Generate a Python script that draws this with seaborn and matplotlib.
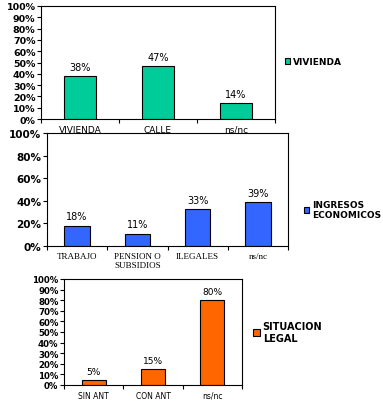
import matplotlib
matplotlib.use("Agg")
import matplotlib.pyplot as plt
import seaborn as sns
from matplotlib.patches import Patch
from matplotlib.ticker import FixedLocator

sns.set_style("white")
plt.rcParams['font.family'] = ['DejaVu Sans']
plt.rcParams['text.color'] = 'black'
plt.rcParams['xtick.color'] = 'black'
plt.rcParams['ytick.color'] = 'black'
plt.rcParams['xtick.labelcolor'] = 'black'
plt.rcParams['ytick.labelcolor'] = 'black'

viv_cats = ["VIVIENDA", "CALLE", "ns/nc"]
viv_vals = [38, 47, 14]
ing_cats = ["TRABAJO", "PENSION O\nSUBSIDIOS", "ILEGALES", "ns/nc"]
ing_vals = [18, 11, 33, 39]
sit_cats = ["SIN ANT", "CON ANT", "ns/nc"]
sit_vals = [5, 15, 80]

W, H = 383, 402
fig = plt.figure(figsize=(W / 100, H / 100), dpi=100)


def px_axes(left, top, right, bottom):
    return fig.add_axes([left / W, 1 - bottom / H, (right - left) / W, (bottom - top) / H])


def panel(ax, cats, vals, color, yticks, width, legend_label, leg_xy, xfont, ylab_size,
          val_size, leg_size, handle):
    sns.barplot(x=cats, y=vals, color=color, edgecolor="black", linewidth=0.8,
                width=width, ax=ax, saturation=1)
    n = len(cats)
    ax.set_xlim(-0.5, n - 0.5)
    ax.set_ylim(0, 100)
    ax.set_yticks(yticks)
    ax.set_yticklabels([f"{t}%" for t in yticks], fontsize=ylab_size, fontweight="bold",
                       color="black")
    ax.set_xticks(range(n))
    ax.set_xticklabels(cats, color="black", **xfont)
    ax.xaxis.set_minor_locator(FixedLocator([i - 0.5 for i in range(n + 1)]))
    ax.tick_params(axis="x", which="major", length=0, pad=4)
    ax.tick_params(axis="x", which="minor", length=3, width=0.8, color="black", bottom=True)
    ax.tick_params(axis="y", length=3, width=0.8, color="black", left=True, pad=1)
    for s in ax.spines.values():
        s.set_visible(True)
        s.set_color("black")
        s.set_linewidth(0.8)
    ax.set_xlabel("")
    ax.set_ylabel("")
    ax.bar_label(ax.containers[0], labels=[f"{v}%" for v in vals], padding=3,
                 fontsize=val_size, color="black")
    ax.legend(handles=[Patch(facecolor=color, edgecolor="black", linewidth=0.8)],
              labels=[legend_label], loc="upper left",
              bbox_to_anchor=(leg_xy[0] / W, 1 - leg_xy[1] / H),
              bbox_transform=fig.transFigure, frameon=False,
              handlelength=handle, handleheight=handle, handletextpad=0.3,
              borderpad=0, borderaxespad=0,
              prop={"size": leg_size, "weight": "bold"})


ax1 = px_axes(41, 7, 275, 120)
panel(ax1, viv_cats, viv_vals, "#00CC99", list(range(0, 101, 10)), 0.4,
      "VIVIENDA", (285, 58), {"fontsize": 6.5}, 6.8, 7, 6.5, 0.6)

ax2 = px_axes(47, 134, 288, 247)
panel(ax2, ing_cats, ing_vals, "#3366FF", list(range(0, 101, 20)), 0.42,
      "INGRESOS\nECONOMICOS", (304, 201),
      {"fontsize": 6.5, "family": "Liberation Serif"}, 7.5, 7, 6.5, 0.6)

ax3 = px_axes(64, 280, 242, 386)
panel(ax3, sit_cats, sit_vals, "#FF6600", list(range(0, 101, 10)), 0.41,
      "SITUACION\nLEGAL", (253, 322), {"fontsize": 5.5}, 6.2, 6.5, 7, 0.7)

fig.savefig("out.png", dpi=100)
